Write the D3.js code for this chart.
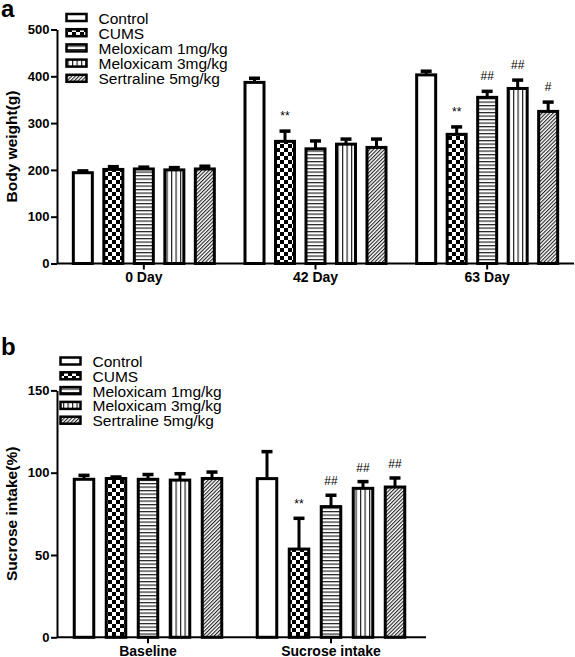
<!DOCTYPE html>
<html>
<head>
<meta charset="utf-8">
<script src="https://cdn.jsdelivr.net/npm/d3@7"></script>
<style>
  html, body { margin: 0; padding: 0; background: #fff; }
  svg { display: block; font-family: "Liberation Sans", Arial, sans-serif; }
</style>
</head>
<body>
<svg id="chart" width="575" height="657"></svg>
<script>
// ---------- data ----------
const seriesNames = ["Control", "CUMS", "Meloxicam 1mg/kg", "Meloxicam 3mg/kg", "Sertraline 5mg/kg"];
const seriesPatterns = ["pat-none", "pat-check", "pat-horiz", "pat-vert", "pat-diag"];

// Panel a: body weight
const bwGroups = ["0 Day", "42 Day", "63 Day"];
const bwTicks = [0, 100, 200, 300, 400, 500];
const bwMean0 = [194, 201, 202, 200, 202];
const bwErr0 = [6, 8, 6, 7, 8];
const bwMean42 = [387, 261, 245, 255, 248];
const bwErr42 = [11, 24, 19, 13, 20];
const bwMean63 = [403, 276, 355, 374, 325];
const bwErr63 = [10, 18, 15, 20, 22];
const bwMarks0 = ["", "", "", "", ""];
const bwMarks42 = ["", "**", "", "", ""];
const bwMarks63 = ["", "**", "##", "##", "#"];

// Panel b: sucrose intake
const siGroups = ["Baseline", "Sucrose intake"];
const siTicks = [0, 50, 100, 150];
const siMeanBase = [96, 96.5, 96, 95.5, 96.5];
const siErrBase = [3, 1.5, 3.5, 4.5, 4.5];
const siMeanSuc = [96.4, 53.6, 79.4, 90.5, 91.3];
const siErrSuc = [17, 19.3, 7.5, 4.7, 6.1];
const siMarksBase = ["", "", "", "", ""];
const siMarksSuc = ["", "**", "##", "##", "##"];

// ---------- build ----------
const svg = d3.select("#chart");
svg.append("rect").attr("width", 575).attr("height", 657).attr("fill", "#fff");

const defs = svg.append("defs");
// checkerboard
const pc = defs.append("pattern").attr("id", "pat-check").attr("patternUnits", "userSpaceOnUse")
  .attr("width", 8).attr("height", 8);
pc.append("rect").attr("width", 8).attr("height", 8).attr("fill", "#fff");
pc.append("rect").attr("width", 4).attr("height", 4).attr("fill", "#000");
pc.append("rect").attr("x", 4).attr("y", 4).attr("width", 4).attr("height", 4).attr("fill", "#000");
// horizontal lines
const ph = defs.append("pattern").attr("id", "pat-horiz").attr("patternUnits", "userSpaceOnUse")
  .attr("width", 4).attr("height", 3.5);
ph.append("rect").attr("width", 4).attr("height", 3.5).attr("fill", "#fff");
ph.append("rect").attr("y", 0).attr("width", 4).attr("height", 1.2).attr("fill", "#222");
// vertical lines
const pv = defs.append("pattern").attr("id", "pat-vert").attr("patternUnits", "userSpaceOnUse")
  .attr("width", 4.5).attr("height", 4);
pv.append("rect").attr("width", 4.5).attr("height", 4).attr("fill", "#fff");
pv.append("rect").attr("x", 0).attr("width", 1.2).attr("height", 4).attr("fill", "#222");
// diagonal hatch
const pd = defs.append("pattern").attr("id", "pat-diag").attr("patternUnits", "userSpaceOnUse")
  .attr("width", 2.6).attr("height", 4).attr("patternTransform", "rotate(45)");
pd.append("rect").attr("width", 2.6).attr("height", 4).attr("fill", "#fff");
pd.append("rect").attr("width", 1.1).attr("height", 4).attr("fill", "#222");

function fillFor(i) {
  return seriesPatterns[i] === "pat-none" ? "#fff" : `url(#${seriesPatterns[i]})`;
}

function drawPanel(cfg) {
  const g = svg.append("g");
  const y = d3.scaleLinear().domain(cfg.yDomain).range(cfg.yRange);
  const x = d3.scaleBand().domain(cfg.groups).range(cfg.xRange);
  const inner = d3.scalePoint().domain(seriesNames).range(cfg.innerRange);

  // y axis
  const ya = g.append("g").attr("transform", `translate(${cfg.axisX},0)`)
    .call(d3.axisLeft(y).tickValues(cfg.ticks).tickSize(6).tickPadding(1.5).tickSizeOuter(0));
  ya.select(".domain").attr("stroke-width", 2);
  ya.selectAll(".tick line").attr("stroke-width", 2);
  ya.selectAll(".tick text").attr("font-size", 13).attr("font-weight", "bold")
    .attr("font-family", "Liberation Sans, Arial, sans-serif").attr("fill", "#000");

  // x axis
  const xa = g.append("g").attr("transform", `translate(0,${cfg.yRange[0]})`)
    .call(d3.axisBottom(x).tickSize(6).tickPadding(0).tickSizeOuter(0));
  xa.select(".domain").remove();
  xa.append("line").attr("x1", cfg.axisX).attr("x2", cfg.axisEnd).attr("y1", 0).attr("y2", 0)
    .attr("stroke", "#000").attr("stroke-width", 2);
  xa.selectAll(".tick line").attr("stroke-width", 2);
  xa.selectAll(".tick text").attr("font-size", 14).attr("font-weight", "bold")
    .attr("font-family", "Liberation Sans, Arial, sans-serif").attr("fill", "#000")
    .attr("dy", null).attr("y", 18.5);

  // bars
  cfg.groups.forEach((grp, gi) => {
    const means = cfg.means[gi], errs = cfg.errs[gi], marks = cfg.marks[gi];
    const cx0 = x(grp) + x.bandwidth() / 2;
    seriesNames.forEach((s, si) => {
      const cx = cx0 + inner(s);
      const top = y(means[si]);
      const etop = y(means[si] + errs[si]);
      // error bar
      g.append("line").attr("x1", cx).attr("x2", cx).attr("y1", top).attr("y2", etop)
        .attr("stroke", "#000").attr("stroke-width", 3);
      g.append("line").attr("x1", cx - 5.5).attr("x2", cx + 5.5).attr("y1", etop + 1).attr("y2", etop + 1)
        .attr("stroke", "#000").attr("stroke-width", 3.5);
      g.append("rect").attr("x", cx - cfg.barW / 2).attr("y", top)
        .attr("width", cfg.barW).attr("height", y(0) - top)
        .attr("fill", fillFor(si)).attr("stroke", "#000").attr("stroke-width", 3);
      if (marks[si]) {
        g.append("text").attr("x", cx).attr("y", etop - cfg.markOff)
          .attr("text-anchor", "middle").attr("font-size", 12).attr("fill", "#000")
          .text(marks[si]);
      }
    });
  });

  // y title
  g.append("text").attr("transform", `translate(${cfg.titleX},${(cfg.yRange[0] + cfg.yRange[1]) / 2}) rotate(-90)`)
    .attr("text-anchor", "middle").attr("font-size", 15.5).attr("font-weight", "bold").attr("fill", "#000")
    .text(cfg.title);

  // panel letter
  g.append("text").attr("x", cfg.letterX).attr("y", cfg.letterY).attr("font-size", 24)
    .attr("font-weight", "bold").attr("fill", "#000").text(cfg.letter);

  // legend
  const lg = g.append("g");
  seriesNames.forEach((s, si) => {
    const yy = cfg.legY + si * cfg.legStep;
    lg.append("rect").attr("x", cfg.legX).attr("y", yy).attr("width", 20).attr("height", 7)
      .attr("fill", fillFor(si)).attr("stroke", "#000").attr("stroke-width", 2.5);
    lg.append("text").attr("x", cfg.legX + 32).attr("y", yy + 9.5).attr("font-size", 15.5)
      .attr("fill", "#000").text(s);
  });
}

drawPanel({
  letter: "a", letterX: 1, letterY: 17,
  title: "Body weight(g)", titleX: 17,
  yDomain: [0, 500], yRange: [263.5, 29.5], ticks: bwTicks,
  groups: bwGroups, xRange: [58, 573], axisX: 57, axisEnd: 574,
  innerRange: [-61, 61], barW: 19,
  means: [bwMean0, bwMean42, bwMean63], errs: [bwErr0, bwErr42, bwErr63],
  marks: [bwMarks0, bwMarks42, bwMarks63], markOff: 10,
  legX: 66.5, legY: 14, legStep: 15.2
});

drawPanel({
  letter: "b", letterX: 1, letterY: 355,
  title: "Sucrose intake(%)", titleX: 16.5,
  yDomain: [0, 150], yRange: [637.3, 390.4], ticks: siTicks,
  groups: siGroups, xRange: [56.5, 422.5], axisX: 57, axisEnd: 426,
  innerRange: [-64, 64], barW: 19.5,
  means: [siMeanBase, siMeanSuc], errs: [siErrBase, siErrSuc],
  marks: [siMarksBase, siMarksSuc], markOff: 9,
  legX: 60.5, legY: 357.5, legStep: 14.8
});
</script>
</body>
</html>
